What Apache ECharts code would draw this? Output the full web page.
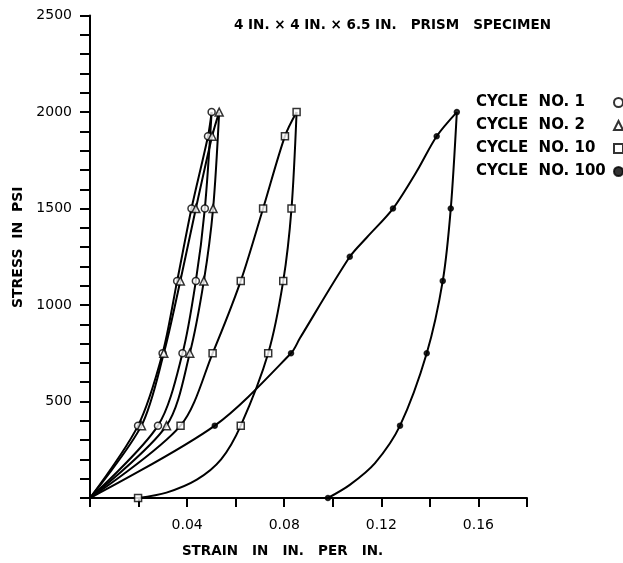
<!DOCTYPE html>
<html>
<head>
<meta charset="utf-8">
<script src="https://cdn.jsdelivr.net/npm/echarts@6/dist/echarts.min.js"></script>
<style>html,body{margin:0;padding:0;background:#fff}#c{width:623px;height:563px}</style>
</head>
<body>
<div id="c"></div>
<script>
// ---- data (strain in in./in., stress in psi) ----
const titleText = '4 IN. × 4 IN. × 6.5 IN.   PRISM   SPECIMEN';
const xName = 'STRAIN   IN   IN.   PER   IN.';
const yName = 'STRESS  IN  PSI';
const xTickLabels = ['0.04', '0.08', '0.12', '0.16'];
const yTickLabels = ['500', '1000', '1500', '2000', '2500'];
const legendNames = ['CYCLE  NO. 1', 'CYCLE  NO. 2', 'CYCLE  NO. 10', 'CYCLE  NO. 100'];

const c1Load = [[0,0],[0.0198,375],[0.0299,750],[0.0359,1125],[0.0418,1500],[0.0486,1875],[0.0501,2000]];
const c1Unload = [[0.0501,2000],[0.0473,1500],[0.0436,1125],[0.0381,750],[0.0280,375],[0,0]];
const c2Load = [[0,0],[0.0212,375],[0.0304,750],[0.0372,1125],[0.0436,1500],[0.0503,1875],[0.0532,2000]];
const c2Unload = [[0.0532,2000],[0.0507,1500],[0.0469,1125],[0.0411,750],[0.0315,375],[0,0]];
const c10Load = [[0,0],[0.0373,375],[0.0505,750],[0.0621,1125],[0.0713,1500],[0.0803,1875],[0.0851,2000]];
const c10Unload = [[0.0851,2000],[0.0830,1500],[0.0796,1125],[0.0734,750],[0.0621,375],[0.054,200],[0.044,95],[0.0315,28],[0.0198,0]];
const c100Load = [[0,0],[0.0514,375],[0.0828,750],[0.0865,829],[0.107,1250],[0.114,1350],[0.1248,1500],[0.1346,1693],[0.1428,1875],[0.1511,2000]];
const c100Unload = [[0.1511,2000],[0.1486,1500],[0.1453,1125],[0.1387,750],[0.1277,375],[0.1174,181],[0.107,68],[0.098,0]];

const c1Marks = [[0.0198,375],[0.0299,750],[0.0359,1125],[0.0418,1500],[0.0486,1875],[0.0501,2000],[0.0280,375],[0.0381,750],[0.0436,1125],[0.0473,1500]];
const c2Marks = [[0.0212,375],[0.0304,750],[0.0372,1125],[0.0436,1500],[0.0503,1875],[0.0532,2000],[0.0315,375],[0.0411,750],[0.0469,1125],[0.0507,1500]];
const c10Marks = [[0.0373,375],[0.0505,750],[0.0621,1125],[0.0713,1500],[0.0803,1875],[0.0851,2000],[0.0621,375],[0.0734,750],[0.0796,1125],[0.0830,1500],[0.0198,0]];
const c100Marks = [[0.0514,375],[0.0828,750],[0.107,1250],[0.1248,1500],[0.1428,1875],[0.1511,2000],[0.1486,1500],[0.1453,1125],[0.1387,750],[0.1277,375],[0.098,0]];

// ---- chart ----
const FONT = 'DejaVu Sans';
const chart = echarts.init(document.getElementById('c'), null, {renderer: 'canvas'});

function curve(data) {
  return {
    type: 'line', data: data, smooth: 0.3,
    showSymbol: false, symbol: 'none', silent: true, z: 2,
    lineStyle: {color: '#000', width: 2}
  };
}
function marks(name, data, symbol, size, fill) {
  return {
    type: 'scatter', name: name, data: data, symbol: symbol, symbolSize: size,
    clip: false, z: 3,
    itemStyle: {color: fill, borderColor: '#000', borderWidth: 1.5}
  };
}

const option = {
  animation: false,
  backgroundColor: '#fff',
  title: {
    text: titleText, left: 229, top: 13,
    textStyle: {fontFamily: FONT, fontWeight: 'bold', fontSize: 13.5, color: '#000'}
  },
  legend: {
    data: legendNames, orient: 'vertical', left: 471, top: 90, align: 'right',
    itemGap: 8, itemWidth: 9, itemHeight: 9, selectedMode: false,
    formatter: function (n) { return '{t|' + n + '}'; },
    textStyle: {
      fontFamily: FONT, fontWeight: 'bold', fontSize: 15, color: '#000',
      rich: {t: {fontFamily: FONT, fontWeight: 'bold', fontSize: 15, color: '#000', width: 133, align: 'left'}}
    }
  },
  grid: {left: 90, right: 96, top: 15.6, bottom: 59.7, containLabel: false},
  xAxis: {
    type: 'value', min: 0, max: 0.18, interval: 0.02,
    name: xName, nameLocation: 'middle', nameGap: 46,
    nameTextStyle: {fontFamily: FONT, fontWeight: 'bold', fontSize: 13.5, color: '#000', padding: [0, 52, 0, 0]},
    axisLine: {lineStyle: {color: '#000', width: 2}},
    axisTick: {length: 9, lineStyle: {color: '#000', width: 2}},
    splitLine: {show: false},
    axisLabel: {
      interval: 0, margin: 20, fontFamily: FONT, fontSize: 14, color: '#000',
      formatter: function (v) { const s = v.toFixed(2); return xTickLabels.indexOf(s) >= 0 ? s : ''; }
    }
  },
  yAxis: {
    type: 'value', min: 0, max: 2500, interval: 100,
    name: yName, nameLocation: 'middle', nameGap: 64,
    nameTextStyle: {fontFamily: FONT, fontWeight: 'bold', fontSize: 14, color: '#000', padding: [0, 0, 0, 19]},
    axisLine: {show: true, lineStyle: {color: '#000', width: 2}},
    axisTick: {show: true, length: 10, lineStyle: {color: '#000', width: 2}},
    splitLine: {show: false},
    axisLabel: {
      interval: 0, margin: 18, fontFamily: FONT, fontSize: 14, color: '#000',
      formatter: function (v) { const s = String(Math.round(v)); return yTickLabels.indexOf(s) >= 0 ? s : ''; }
    }
  },
  series: [
    curve(c1Load), curve(c1Unload), curve(c2Load), curve(c2Unload),
    curve(c10Load), curve(c10Unload), curve(c100Load), curve(c100Unload),
    marks(legendNames[0], c1Marks, 'circle', 7, '#fff'),
    marks(legendNames[1], c2Marks, 'triangle', 8, '#fff'),
    marks(legendNames[2], c10Marks, 'rect', 7, '#fff'),
    marks(legendNames[3], c100Marks, 'circle', 5, '#000')
  ]
};
chart.setOption(option);
</script>
</body>
</html>
